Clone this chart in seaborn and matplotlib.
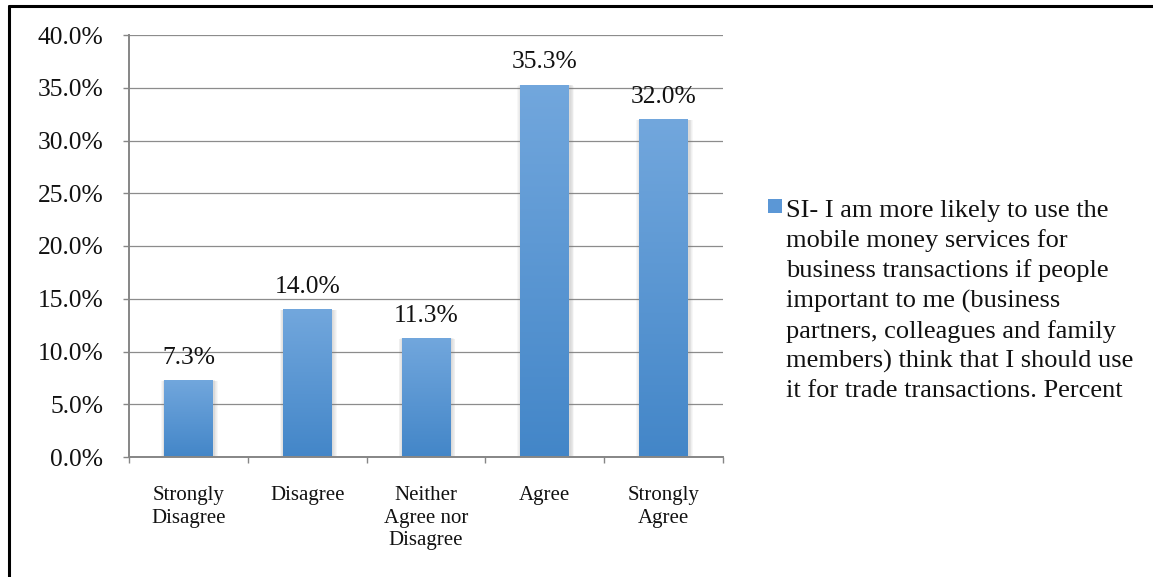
import numpy as np
import pandas as pd
import seaborn as sns
import matplotlib.pyplot as plt
from matplotlib.patches import Rectangle
from matplotlib.lines import Line2D
from matplotlib.colors import LinearSegmentedColormap
from matplotlib.ticker import FuncFormatter

# Survey responses (share of respondents, %)
categories = ["Strongly\nDisagree", "Disagree", "Neither\nAgree nor\nDisagree", "Agree", "Strongly\nAgree"]
percent = [7.3, 14.0, 11.3, 35.3, 32.0]
y_ticks = [0, 5, 10, 15, 20, 25, 30, 35, 40]
series_label = ("SI- I am more likely to use the\n"
                "mobile money services for\n"
                "business transactions if people\n"
                "important to me (business\n"
                "partners, colleagues and family\n"
                "members) think that I should use\n"
                "it for trade transactions. Percent")

sns.set_theme(style="white")
plt.rcParams["font.family"] = ["Liberation Serif", "DejaVu Serif"]

W, H = 1153, 577
fig = plt.figure(figsize=(W / 100, H / 100), dpi=100)
fig.patch.set_facecolor("white")

ax_left, ax_right, ax_top, ax_bottom = 129, 723, 35, 457
ax = fig.add_axes([ax_left / W, 1 - ax_bottom / H,
                   (ax_right - ax_left) / W, (ax_bottom - ax_top) / H])

df = pd.DataFrame({"category": categories, "percent": percent})
sns.barplot(data=df, x="category", y="percent", color="#4f8fd0",
            width=0.41, ax=ax, zorder=3, saturation=1)

ax.set_xlim(-0.5, len(categories) - 0.5)
ax.set_ylim(0, 40)

grid_color = "#8c8c8c"
axis_color = "#868686"

# vertical gradient on each bar, plus a soft shadow
cmap = LinearSegmentedColormap.from_list("bar", ["#4386c8", "#72a7dd"])
grad = np.linspace(0, 1, 256).reshape(-1, 1)
px = (len(categories)) / (ax_right - ax_left)  # data units per pixel in x
for patch in list(ax.patches):
    x0, w, h = patch.get_x(), patch.get_width(), patch.get_height()
    for k in range(1, 6):
        ax.add_patch(Rectangle((x0 - k * px * 0.8 + 1.0 * px, 0),
                               w + k * px * 1.6, h - 0.02 * k,
                               facecolor="#7a7a7a", alpha=0.06,
                               edgecolor="none", zorder=2.5))
    im = ax.imshow(grad, extent=[x0, x0 + w, 0, h], origin="lower",
                   aspect="auto", cmap=cmap, zorder=3.2)
    im.set_clip_path(patch)
    patch.set_edgecolor("none")

ax.set_xlim(-0.5, len(categories) - 0.5)
ax.set_ylim(0, 40)

# value labels above the bars
for i, v in enumerate(percent):
    ax.annotate(f"{v:.1f}%", xy=(i, v), xytext=(0, 8), textcoords="offset points",
                ha="center", va="bottom", fontsize=18.4, color="#111111")

# axes styling
ax.set_xlabel("")
ax.set_ylabel("")
ax.set_yticks(y_ticks)
ax.yaxis.set_major_formatter(FuncFormatter(lambda v, _: f"{v:.1f}%"))
ax.tick_params(axis="y", which="major", left=True, length=4.5, width=1,
               color=axis_color, pad=14, labelsize=18.4, labelcolor="#111111")
ax.set_xticks(range(len(categories)))
ax.set_xticklabels(categories, linespacing=1.26)
ax.set_xticks(np.arange(-0.5, len(categories)), minor=True)
ax.tick_params(axis="x", which="major", bottom=False, length=0, pad=21,
               labelsize=15, labelcolor="#111111")
ax.tick_params(axis="x", which="minor", bottom=True, length=4.5, width=1,
               color=axis_color)
ax.yaxis.grid(True, color=grid_color, linewidth=0.9, zorder=0)
ax.set_axisbelow(True)
for side in ["top", "right"]:
    ax.spines[side].set_visible(False)
for side in ["left", "bottom"]:
    ax.spines[side].set_color(axis_color)
    ax.spines[side].set_linewidth(1.4)
    ax.spines[side].set_zorder(4)

# legend entry
fig.patches.append(Rectangle((768 / W, 1 - 213 / H), 14 / W, 14 / H,
                             transform=fig.transFigure, facecolor="#5b97d6",
                             edgecolor="none"))
fig.text(786 / W, 1 - 200 / H, series_label, ha="left", va="top",
         fontsize=19, linespacing=1.40, color="#111111")

# frame around the chart
fig.lines.append(Line2D([8.5 / W, 1], [1 - 5.5 / H, 1 - 5.5 / H],
                        transform=fig.transFigure, color="black", linewidth=2.2))
fig.lines.append(Line2D([8.5 / W, 8.5 / W], [0, 1 - 5.5 / H],
                        transform=fig.transFigure, color="black", linewidth=2.2))

fig.savefig("out.png", dpi=100)
